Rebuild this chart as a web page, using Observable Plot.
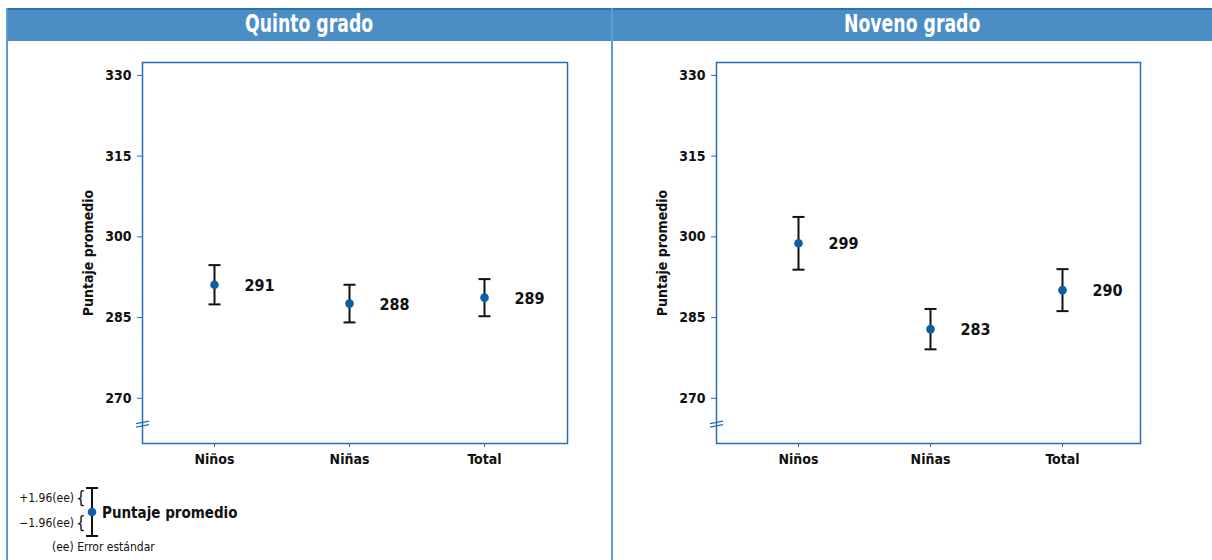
<!DOCTYPE html>
<html>
<head>
<meta charset="utf-8">
<script src="https://cdn.jsdelivr.net/npm/d3@7"></script>
<script src="https://cdn.jsdelivr.net/npm/@observablehq/plot@0.6"></script>
<style>
  html, body { margin: 0; padding: 0; background: #fff; }
  body { width: 1212px; height: 560px; position: relative; overflow: hidden;
         font-family: "Liberation Sans Narrow", "DejaVu Sans Condensed", "Roboto Condensed", sans-serif; }
  .hdr { position: absolute; left: 7px; top: 8px; width: 1205px; height: 31px;
         background: #4b8ec6; border-top: 2px solid #2a72b6; }
  .title { position: absolute; top: 9px; height: 31px; line-height: 31px; text-align: center;
           color: #fff; font-weight: bold; font-size: 24px; }
  .title span { display: inline-block; transform: scaleX(0.8); }
  .vline { position: absolute; top: 8px; width: 2px; height: 552px; background: #5d9dd6; }
  .panel { position: absolute; top: 41px; }
  .panel svg text { font-weight: bold; }
  #legend { position: absolute; left: 0; top: 470px; }
</style>
</head>
<body>
<div class="hdr"></div>
<div class="title" style="left:7px;width:605px;"><span>Quinto grado</span></div>
<div class="title" style="left:613px;width:599px;"><span>Noveno grado</span></div>
<div class="panel" id="p1" style="left:7px;"></div>
<div class="panel" id="p2" style="left:613px;"></div>
<div class="vline" style="left:6px;"></div>
<div class="vline" style="left:611px;"></div>
<svg id="legend" width="300" height="90"></svg>
<script>
// ---- data ----
const categories = ["Niños", "Niñas", "Total"];
const quintoMean = [291.1, 287.6, 288.7];
const quintoHalf = [3.65, 3.5, 3.45];
const quintoLabels = ["291", "288", "289"];
const novenoMean = [298.8, 282.85, 290.1];
const novenoHalf = [4.9, 3.75, 3.9];
const novenoLabels = ["299", "283", "290"];
const yTicks = [270, 285, 300, 315, 330];
const yDomain = [261.6, 332.4];
const breakValue = [265.2];
const yLabel = "Puntaje promedio";

const BLUE = "#2a6db5";
const DOT = "#0b5ea8";
const FONT = '"Liberation Sans Narrow", "DejaVu Sans Condensed", "Roboto Condensed", sans-serif';

const capSymbol = {
  draw(ctx, size) { const r = Math.sqrt(size / Math.PI); ctx.moveTo(-r, 0); ctx.lineTo(r, 0); }
};
const breakSymbol = {
  draw(ctx, size) {
    const r = Math.sqrt(size / Math.PI);
    for (const o of [-1.8, 1.8]) { ctx.moveTo(-r, o + 1.3); ctx.lineTo(r, o - 1.3); }
  }
};

function makeData(means, halfs, labels) {
  return categories.map((c, i) => ({
    cat: c, mean: means[i], lo: means[i] - halfs[i], hi: means[i] + halfs[i], label: labels[i]
  }));
}

function panel(data, opts) {
  return Plot.plot({
    width: opts.width, height: 440,
    marginTop: 21, marginBottom: 38, marginLeft: opts.ml, marginRight: opts.mr,
    style: { fontFamily: FONT, fontSize: "14px", color: "#111", background: "transparent" },
    x: { type: "point", domain: categories, padding: opts.pad, align: opts.align },
    y: { domain: yDomain },
    marks: [
      Plot.frame({ stroke: BLUE, strokeWidth: 1.5 }),
      Plot.axisY({ ticks: yTicks, tickSize: 5, tickPadding: 6, stroke: BLUE, fill: "#111",
                   fontSize: 14, label: yLabel, labelAnchor: "center", labelArrow: "none", labelOffset: 59 }),
      Plot.axisX({ tickSize: 4, tickPadding: 7, stroke: BLUE, fill: "#111", fontSize: 14, label: null }),
      Plot.dot(breakValue, { y: d => d, frameAnchor: "left", symbol: breakSymbol, r: 6.5, stroke: BLUE, strokeWidth: 1.3 }),
      Plot.ruleX(data, { x: "cat", y1: "lo", y2: "hi", stroke: "#111", strokeWidth: 2 }),
      Plot.dot(data, { x: "cat", y: "lo", symbol: capSymbol, r: 6, stroke: "#111", strokeWidth: 2 }),
      Plot.dot(data, { x: "cat", y: "hi", symbol: capSymbol, r: 6, stroke: "#111", strokeWidth: 2 }),
      Plot.dot(data, { x: "cat", y: "mean", r: 4.3, fill: DOT, stroke: null }),
      Plot.text(data, { x: "cat", y: "mean", text: "label", dx: 45, dy: 1, fontSize: 16, fontWeight: "bold", fill: "#111" })
    ]
  });
}

document.getElementById("p1").append(panel(makeData(quintoMean, quintoHalf, quintoLabels), { width: 605, ml: 135, mr: 45, pad: 0.57, align: 0.465 }));
document.getElementById("p2").append(panel(makeData(novenoMean, novenoHalf, novenoLabels), { width: 599, ml: 103, mr: 72, pad: 0.6, align: 0.514 }));

// ---- legend (key) ----
const lg = d3.select("#legend").style("font-family", FONT);
const oy = 470;
lg.append("text").attr("x", 74).attr("y", 502 - oy).attr("text-anchor", "end").attr("font-size", 12).attr("fill", "#111").text("+1.96(ee)");
lg.append("text").attr("x", 74).attr("y", 527 - oy).attr("text-anchor", "end").attr("font-size", 12).attr("fill", "#111").text("\u22121.96(ee)");
lg.append("text").attr("x", 76).attr("y", 504 - oy).attr("font-size", 17).attr("font-weight", 300).attr("fill", "#111").text("{");
lg.append("text").attr("x", 76).attr("y", 529 - oy).attr("font-size", 17).attr("font-weight", 300).attr("fill", "#111").text("{");
lg.append("line").attr("x1", 92).attr("x2", 92).attr("y1", 488 - oy).attr("y2", 536 - oy).attr("stroke", "#111").attr("stroke-width", 2);
lg.append("line").attr("x1", 86).attr("x2", 98).attr("y1", 488 - oy).attr("y2", 488 - oy).attr("stroke", "#111").attr("stroke-width", 2);
lg.append("line").attr("x1", 86).attr("x2", 98).attr("y1", 536 - oy).attr("y2", 536 - oy).attr("stroke", "#111").attr("stroke-width", 2);
lg.append("circle").attr("cx", 92).attr("cy", 512 - oy).attr("r", 4.3).attr("fill", DOT);
lg.append("text").attr("x", 102).attr("y", 518 - oy).attr("font-size", 15).attr("font-weight", "bold").attr("fill", "#111").text("Puntaje promedio");
lg.append("text").attr("x", 52).attr("y", 551 - oy).attr("font-size", 12).attr("fill", "#111").text("(ee) Error estándar");
</script>
</body>
</html>
